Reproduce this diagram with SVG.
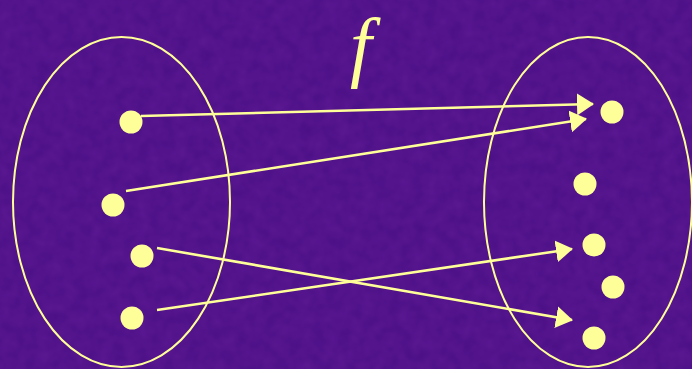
<svg xmlns="http://www.w3.org/2000/svg" width="692" height="369" viewBox="0 0 692 369">
<defs>
<style>
.set{fill:none;stroke:#FFFF99;stroke-width:2}
.dot{fill:#FFFF99}
.arr{stroke:#FFFF99;stroke-width:2.6;fill:none;marker-end:url(#ah)}
</style>
<marker id="ah" viewBox="0 0 17 22" refX="16" refY="11" markerWidth="17" markerHeight="22" orient="auto" markerUnits="userSpaceOnUse">
<path d="M0,0 L17,11 L0,22 Z" fill="#FFFF99"/>
</marker>
<filter id="tex" x="0" y="0" width="100%" height="100%">
<feTurbulence type="fractalNoise" baseFrequency="0.08" numOctaves="2" seed="3"/>
<feColorMatrix type="matrix" values="0 0 0 0 0.35  0 0 0 0 0.05  0 0 0 0 0.55  0 0 0 0.35 0"/>
</filter>
</defs>
<rect width="692" height="369" fill="#4a0f85"/>
<rect width="692" height="369" filter="url(#tex)" opacity="0.6"/>
<text x="350" y="72" font-family="'Liberation Serif', serif" font-style="italic" font-size="78" fill="#FFFF99">f</text>
<g id="setA"><ellipse class="set" cx="121.5" cy="202" rx="108.5" ry="165"/></g>
<g id="setB"><ellipse class="set" cx="588" cy="202" rx="104" ry="165"/></g>
<g id="a1"><circle class="dot" cx="131" cy="122" r="11.5"/></g>
<g id="a2"><circle class="dot" cx="113" cy="205" r="11.5"/></g>
<g id="a3"><circle class="dot" cx="142" cy="256" r="11.5"/></g>
<g id="a4"><circle class="dot" cx="132" cy="318" r="11.5"/></g>
<g id="b1"><circle class="dot" cx="612" cy="112" r="11.5"/></g>
<g id="b2"><circle class="dot" cx="585" cy="184" r="11.5"/></g>
<g id="b3"><circle class="dot" cx="594" cy="245" r="11.5"/></g>
<g id="b4"><circle class="dot" cx="613" cy="287" r="11.5"/></g>
<g id="b5"><circle class="dot" cx="594" cy="338" r="11.5"/></g>
<g id="connectors">
<line class="arr" x1="141" y1="116" x2="593" y2="104"/>
<line class="arr" x1="126" y1="191" x2="586" y2="119"/>
<line class="arr" x1="157" y1="248" x2="572" y2="320"/>
<line class="arr" x1="157" y1="310" x2="572" y2="249"/>
</g>
</svg>
